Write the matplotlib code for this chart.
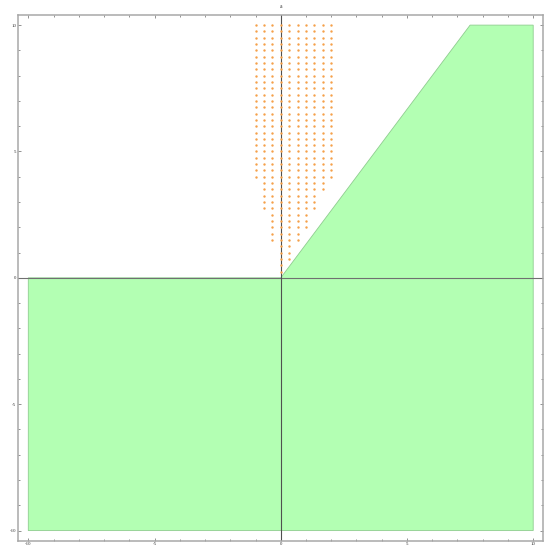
import numpy as np
import matplotlib
matplotlib.use("Agg")
import matplotlib.pyplot as plt
from matplotlib.ticker import MultipleLocator

# Shaded region (polygon outline)
region_x = [-10, 0, 7.5, 10, 10, -10]
region_y = [0, 0, 10, 10, -10, -10]

# Orange point grid: columns and the lowest point of each column
dot_cols = [-1, -2/3, -1/3, 0, 1/3, 2/3, 1, 4/3, 5/3, 2]
dot_bottom = [4, 2.75, 1.5, 0.25, 0.75, 1.5, 2, 2.75, 3.5, 4]
dot_top = 10
dot_step = 0.25

xticks = [-10, -5, 0, 5, 10]
yticks = [-10, -5, 0, 5, 10]
axis_label = "a"

fig = plt.figure(figsize=(5.47, 5.46), dpi=100)
ax = fig.add_axes([17.7/547, 1-540.7/546, (543.3-17.7)/547, (540.7-15)/546])

ax.fill(region_x, region_y, facecolor="#b3ffb3", edgecolor="#8fcc8f", linewidth=0.6, zorder=1)

px, py = [], []
for cx, yb in zip(dot_cols, dot_bottom):
    ys = np.arange(yb, dot_top + 1e-9, dot_step)
    px.extend([cx] * len(ys))
    py.extend(ys)
ax.scatter(px, py, s=3.0, marker="o", color="#f5a04a", linewidths=0, zorder=3)

ax.axhline(0, color="#707070", linewidth=0.8, zorder=2)
ax.axvline(0, color="#505050", linewidth=0.8, zorder=2)

ax.set_xlim(-10.42, 10.40)
ax.set_ylim(-10.40, 10.40)

for s in ax.spines.values():
    s.set_color("#a8a8a8")
    s.set_linewidth(1.1)

ax.set_xticks(xticks)
ax.set_yticks(yticks)
ax.set_xticklabels([str(t) for t in xticks])
ax.set_yticklabels([str(t) for t in yticks])
ax.xaxis.set_minor_locator(MultipleLocator(1))
ax.yaxis.set_minor_locator(MultipleLocator(1))
ax.tick_params(which="major", direction="in", length=2.5, width=0.5, color="#666666",
               labelsize=3.5, pad=1.0, top=True, right=True, labelcolor="#333333")
ax.tick_params(which="minor", direction="in", length=1.5, width=0.5, color="#666666",
               top=True, right=True)
for lab in ax.get_xticklabels() + ax.get_yticklabels():
    lab.set_family("Liberation Serif")

ax.text(0, 10.62, axis_label, ha="center", va="bottom", fontsize=4, family="Liberation Serif",
        color="#333333", clip_on=False)

fig.savefig("out.png", dpi=100)
